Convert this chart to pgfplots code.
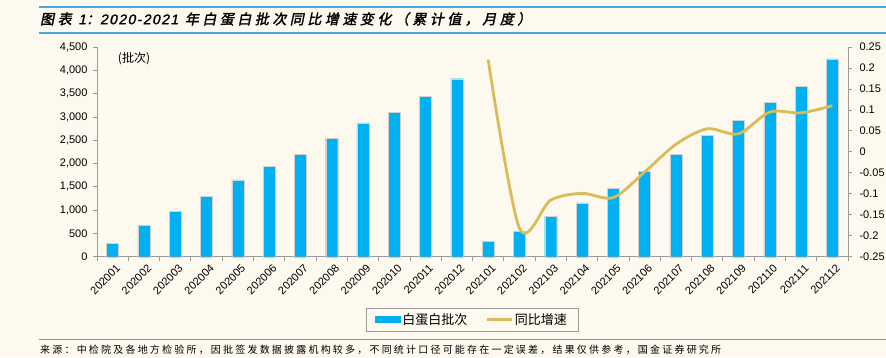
\documentclass[border=0pt]{standalone}
\usepackage{fontspec}
\usepackage{pgfplots}
\pgfplotsset{compat=1.18}
\setmainfont{Liberation Sans}
\newfontfamily\cjk{Noto Sans CJK SC}
\newfontfamily\cjkt{Noto Sans CJK SC}[FakeBold=2,FakeSlant=0.2,LetterSpace=25]
\newfontfamily\latt{Liberation Sans}[FakeBold=1.5,FakeSlant=0.2,LetterSpace=10]
\newfontfamily\cjks{Noto Sans CJK SC}[LetterSpace=22]
\definecolor{bgcol}{HTML}{FEF9EF}
\definecolor{barblue}{HTML}{00B0F0}
\definecolor{gold}{HTML}{D9BB58}
\definecolor{axgray}{HTML}{9A9A9A}
\definecolor{tblue}{HTML}{45A8DE}
\begin{document}
\begin{tikzpicture}[x=1pt,y=1pt]
\useasboundingbox (0,0) rectangle (886,357);
\clip (0,0) rectangle (886,357);
\fill[bgcol] (0,0) rectangle (886,357);
\draw[tblue, line width=1.3pt] (39,350) -- (886,350);
\draw[tblue, line width=1.3pt] (39,324) -- (886,324);
\node[anchor=west, inner sep=0pt] at (40,338) {\cjkt\fontsize{14}{16}\selectfont 图表 {\latt 1}：{\latt 2020-2021} 年白蛋白批次同比增速变化（累计值，月度）};
\draw[tblue, line width=1pt] (39,18) -- (886,18);
\node[anchor=west, inner sep=0pt] at (40,7) {\cjks\fontsize{10}{12}\selectfont 来源：中检院及各地方检验所，因批签发数据披露机构较多，不同统计口径可能存在一定误差，结果仅供参考，国金证券研究所};

\begin{axis}[at={(97pt,100.3pt)}, anchor=south west, scale only axis,
  width=751pt, height=209.7pt,
  xmin=-0.5, xmax=23.5, ymin=0, ymax=4500,
  axis x line*=bottom, axis y line*=left,
  axis line style={-, draw=axgray, line width=0.9pt},
  ytick={0,500,...,4500},
  /pgf/number format/assume math mode=true,
  /pgf/number format/1000 sep={,},
  tick align=outside,
  major tick length=4pt, minor tick length=4pt,
  tick style={draw=axgray, line width=0.8pt},
  xtick={0,...,23},
  major x tick style={draw=none},
  minor xtick={-0.5,0.5,...,23.5},
  xticklabels={202001,202002,202003,202004,202005,202006,202007,202008,202009,202010,202011,202012,202101,202102,202103,202104,202105,202106,202107,202108,202109,202110,202111,202112},
  x tick label style={rotate=45, anchor=north east, font=\fontsize{11}{12}\selectfont, xshift=1pt, yshift=-3pt, inner sep=1pt},
  y tick label style={font=\fontsize{11}{12}\selectfont, xshift=-2pt},
  clip=false]
\addplot[ybar, bar width=12pt, bar shift=0pt, fill=barblue, draw=axgray!45, line width=0.3pt] coordinates {
(0,290) (1,680) (2,980) (3,1290) (4,1650) (5,1945) (6,2200) (7,2540) (8,2870) (9,3100) (10,3445) (11,3820)
(12,335) (13,550) (14,865) (15,1155) (16,1465) (17,1835) (18,2195) (19,2600) (20,2930) (21,3315) (22,3655) (23,4245)};
\end{axis}

\begin{axis}[at={(97pt,100.3pt)}, anchor=south west, scale only axis,
  width=751pt, height=209.7pt,
  xmin=-0.5, xmax=23.5, ymin=-0.25, ymax=0.25,
  axis x line=none, axis y line*=right,
  axis line style={-, draw=axgray, line width=0.9pt},
  ytick={-0.25,-0.2,-0.15,-0.1,-0.05,0,0.05,0.1,0.15,0.2,0.25},
  yticklabels={-0.25,-0.2,-0.15,-0.1,-0.05,0,0.05,0.1,0.15,0.2,0.25},
  tick align=outside, major tick length=4pt,
  tick style={draw=axgray, line width=0.8pt},
  y tick label style={font=\fontsize{11}{12}\selectfont, xshift=4pt},
  legend style={at={(0.4993,-0.2995)}, anchor=center, draw=axgray, fill=bgcol,
    font=\cjk\fontsize{13}{15}\selectfont, inner xsep=9pt, inner ysep=3.5pt,
    /tikz/every even column/.append style={column sep=16pt}},
  legend columns=2,
  clip=false]
\addlegendimage{legend image code/.code={\fill[barblue] (0pt,-3pt) rectangle (25pt,3pt);}}
\addlegendentry{白蛋白批次}
\addplot[gold, line width=2.8pt, smooth, tension=0.5,
  legend image code/.code={\draw[gold, line width=2.5pt] (0pt,0pt) -- (25pt,0pt);}] coordinates {
(12,0.22) (13,-0.182) (14,-0.115) (15,-0.099) (16,-0.109) (17,-0.048) (18,0.018) (19,0.055) (20,0.043) (21,0.095) (22,0.093) (23,0.11)};
\addlegendentry{同比增速}
\end{axis}
\node[inner sep=0pt] at (134,298) {\cjk\fontsize{12}{14}\selectfont (批次)};
\end{tikzpicture}
\end{document}
